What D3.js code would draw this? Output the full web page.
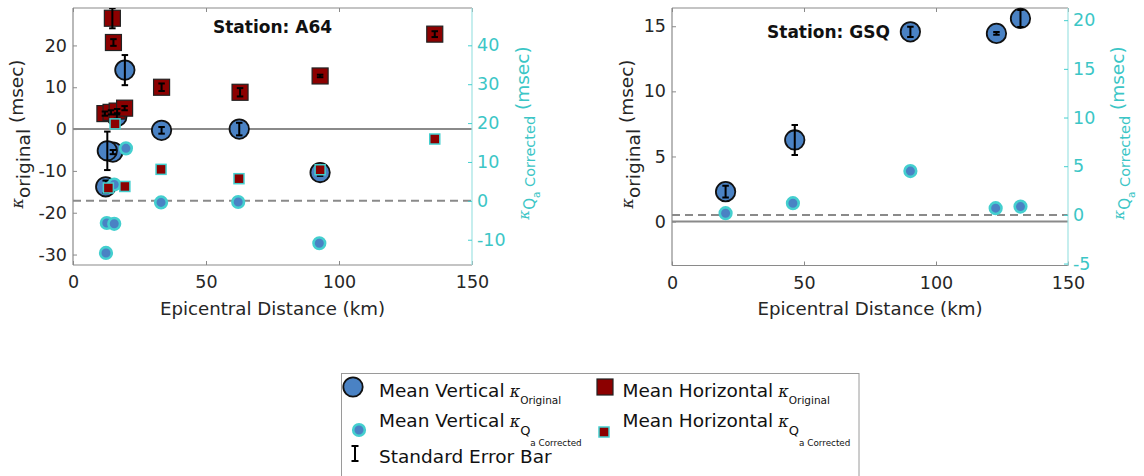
<!DOCTYPE html>
<html><head><meta charset="utf-8">
<script src="https://cdn.jsdelivr.net/npm/d3@7"></script>
<style>body{margin:0;background:#fff} text{font-family:"DejaVu Sans",sans-serif}</style>
</head><body><svg id="c" width="1144" height="476"></svg>
<script>
// ---------- data ----------
const xTicks = [0, 50, 100, 150];
const xLimits = [0, 150];

// Station A64
const a64LeftTicks = [-30, -20, -10, 0, 10, 20];
const a64RightTicks = [-10, 0, 10, 20, 30, 40];
const a64LeftLimits = [-32.5, 28.95];
const a64RightLimits = [-16.5, 49.6];

const a64VertOrigDist = [16.5, 19.5, 33.3, 62.5, 92.9, 15.0, 12.9, 12.3];
const a64VertOrigVal  = [3.0, 14.1, -0.3, 0.0, -10.4, -5.5, -5.2, -13.8];
const a64VertOrigErr  = [0.5, 3.6, 0.8, 1.5, 0.8, 0.5, 4.6, 1.5];

const a64HorOrigDist = [14.8, 15.2, 33.3, 62.8, 92.9, 136.0, 12.0, 14.3, 16.6, 19.4];
const a64HorOrigVal  = [26.5, 20.7, 10.0, 8.8, 12.7, 22.7, 3.7, 4.0, 4.3, 5.0];
const a64HorOrigErr  = [2.4, 0.8, 0.9, 1.0, 0.3, 0.7, 0.5, 0.5, 0.5, 0.5];

const a64VertCorrDist = [12.4, 12.7, 15.5, 19.9, 33.1, 62.1, 92.6, 15.5];
const a64VertCorrVal  = [-13.4, -5.7, -5.9, 13.5, -0.4, -0.3, -10.9, 4.2];

const a64HorCorrDist = [15.8, 33.1, 62.4, 92.9, 136.0, 13.3, 19.5];
const a64HorCorrVal  = [19.8, 8.1, 5.7, 8.0, 15.9, 3.3, 3.7];

// Station GSQ
const gsqLeftTicks = [0, 5, 10, 15];
const gsqRightTicks = [-5, 0, 5, 10, 15, 20];
const gsqLeftLimits = [-3.37, 16.4];
const gsqRightLimits = [-5.2, 21.25];

const gsqVertOrigDist = [20.3, 46.5, 90.3, 122.9, 132.0];
const gsqVertOrigVal  = [2.3, 6.27, 14.57, 14.45, 15.6];
const gsqVertOrigErr  = [0.45, 1.15, 0.4, 0.1, 0.65];

const gsqVertCorrDist = [20.3, 45.8, 90.3, 122.6, 132.0];
const gsqVertCorrVal  = [0.17, 1.2, 4.5, 0.69, 0.85];

const gsqHorOrigDist = [], gsqHorOrigVal = [], gsqHorOrigErr = [];
const gsqHorCorrDist = [], gsqHorCorrVal = [];

// ---------- style ----------
const BLUE = "#4a82c4", RED = "#8c0000", CYAN = "#44cfcf", CYANTXT = "#3cc6c6";
const GRAY = "#8a8a8a", DARK = "#262626";
const fmt = d => String(d);   // plain hyphen-minus like the reference

const svg = d3.select("#c");
svg.append("rect").attr("width", 1144).attr("height", 476).attr("fill", "#fff");

const zip = (a, b, c) => a.map((d, i) => ({x: d, y: b[i], e: c ? c[i] : 0}));

const panels = [
  {id: "a64", left: 73, right: 472, top: 8, bottom: 265,
   lLim: a64LeftLimits, rLim: a64RightLimits, lTicks: a64LeftTicks, rTicks: a64RightTicks,
   vo: zip(a64VertOrigDist, a64VertOrigVal, a64VertOrigErr),
   ho: zip(a64HorOrigDist, a64HorOrigVal, a64HorOrigErr),
   vc: zip(a64VertCorrDist, a64VertCorrVal),
   hc: zip(a64HorCorrDist, a64HorCorrVal),
   title: "Station: A64", titleX: 272.5, titleY: 33,
   lLabelX: 23, rLabelX: 529},
  {id: "gsq", left: 672, right: 1068, top: 8, bottom: 265.5,
   lLim: gsqLeftLimits, rLim: gsqRightLimits, lTicks: gsqLeftTicks, rTicks: gsqRightTicks,
   vo: zip(gsqVertOrigDist, gsqVertOrigVal, gsqVertOrigErr),
   ho: zip(gsqHorOrigDist, gsqHorOrigVal, gsqHorOrigErr),
   vc: zip(gsqVertCorrDist, gsqVertCorrVal),
   hc: zip(gsqHorCorrDist, gsqHorCorrVal),
   title: "Station: GSQ", titleX: 828.5, titleY: 38,
   lLabelX: 633, rLabelX: 1124}
];

function bigCircle(sel) {
  sel.attr("r", 9.7).attr("fill", BLUE).attr("stroke", "#111").attr("stroke-width", 1.8);
}
function smallCircle(sel) {
  sel.attr("r", 5.8).attr("fill", BLUE).attr("stroke", CYAN).attr("stroke-width", 2.6);
}
function errBar(g, x, y0, y1, cap) {
  g.append("line").attr("x1", x).attr("x2", x).attr("y1", y0).attr("y2", y1)
    .attr("stroke", "#000").attr("stroke-width", 2);
  [y0, y1].forEach(yy => g.append("line").attr("x1", x - cap / 2).attr("x2", x + cap / 2)
    .attr("y1", yy).attr("y2", yy).attr("stroke", "#000").attr("stroke-width", 2));
}

panels.forEach(p => {
  const x = d3.scaleLinear().domain(xLimits).range([p.left, p.right]);
  const yL = d3.scaleLinear().domain(p.lLim).range([p.bottom, p.top]);
  const yR = d3.scaleLinear().domain(p.rLim).range([p.bottom, p.top]);
  const g = svg.append("g");

  const clipId = "clip-" + p.id;
  svg.append("defs").append("clipPath").attr("id", clipId).append("rect")
    .attr("x", p.left).attr("y", p.top).attr("width", p.right - p.left).attr("height", p.bottom - p.top);

  // zero lines
  g.append("line").attr("x1", p.left).attr("x2", p.right).attr("y1", yL(0)).attr("y2", yL(0))
    .attr("stroke", GRAY).attr("stroke-width", 2);
  g.append("line").attr("x1", p.left).attr("x2", p.right).attr("y1", yR(0)).attr("y2", yR(0))
    .attr("stroke", GRAY).attr("stroke-width", 2).attr("stroke-dasharray", "8,5");

  // axes
  const tl = 4;
  const xb = d3.axisBottom(x).tickValues(xTicks).tickSize(-tl).tickPadding(11).tickFormat(fmt);
  const ax = g.append("g").attr("transform", `translate(0,${p.bottom})`).call(xb);
  const xt = d3.axisTop(x).tickValues(xTicks).tickSize(-tl).tickFormat("");
  const axT = g.append("g").attr("transform", `translate(0,${p.top})`).call(xt);
  const yl = d3.axisLeft(yL).tickValues(p.lTicks).tickSize(-tl).tickPadding(6).tickFormat(fmt);
  const ayl = g.append("g").attr("transform", `translate(${p.left},0)`).call(yl);
  const yr = d3.axisRight(yR).tickValues(p.rTicks).tickSize(-tl).tickPadding(5).tickFormat(fmt);
  const ayr = g.append("g").attr("transform", `translate(${p.right},0)`).call(yr);

  [ax, axT, ayl].forEach(a => {
    a.select(".domain").attr("stroke", GRAY).attr("stroke-width", 1.2);
    a.selectAll(".tick line").attr("stroke", GRAY).attr("stroke-width", 1);
    a.selectAll("text").attr("fill", DARK).attr("font-size", 17.5).attr("font-family", "DejaVu Sans");
  });
  ax.selectAll("text").attr("dy", "0.71em");
  ayr.select(".domain").attr("stroke", "#9fe3e3").attr("stroke-width", 1.2);
  ayr.selectAll(".tick line").attr("stroke", CYAN).attr("stroke-width", 1);
  ayr.selectAll("text").attr("fill", CYANTXT).attr("font-size", 17.5).attr("font-family", "DejaVu Sans");
  ax.select(".domain").attr("d", `M${p.left},0H${p.right}`);
  axT.select(".domain").attr("d", `M${p.left},0H${p.right}`);
  ayl.select(".domain").attr("d", `M0,${p.top}V${p.bottom}`);
  ayr.select(".domain").attr("d", `M0,${p.top}V${p.bottom}`);

  // x label
  g.append("text").attr("x", (p.left + p.right) / 2).attr("y", 315).attr("text-anchor", "middle")
    .attr("font-size", 18.2).attr("fill", DARK).text("Epicentral Distance (km)");

  // left y label
  const ll = g.append("text").attr("transform", `translate(${p.lLabelX},134) rotate(-90)`)
    .attr("text-anchor", "middle").attr("fill", DARK).attr("font-size", 18.5);
  ll.append("tspan").attr("font-style", "italic").attr("font-size", 16).attr("font-family", "DejaVu Serif").text("κ");
  ll.append("tspan").attr("dy", 7).attr("font-size", 18.5).text("original");
  ll.append("tspan").attr("dy", -7).text(" (msec)");

  // right y label
  const rl = g.append("text").attr("transform", `translate(${p.rLabelX},133) rotate(-90)`)
    .attr("text-anchor", "middle").attr("fill", CYANTXT).attr("font-size", 18.5);
  rl.append("tspan").attr("font-style", "italic").attr("font-size", 15).attr("font-family", "DejaVu Serif").text("κ");
  rl.append("tspan").attr("dy", 6).attr("font-size", 15).text("Q");
  rl.append("tspan").attr("dy", 5).attr("font-size", 10.5).text("a");
  rl.append("tspan").attr("dy", -5).attr("font-size", 14.5).text(" Corrected");
  rl.append("tspan").attr("dy", -6).text(" (msec)");

  // title
  g.append("text").attr("x", p.titleX).attr("y", p.titleY).attr("text-anchor", "middle")
    .attr("font-size", 17).attr("font-weight", "bold").attr("fill", "#111").text(p.title);

  // markers: original (left axis)
  const m = g.append("g");
  m.selectAll(".vo").data(p.vo).join("circle").attr("class", "vo")
    .attr("cx", d => x(d.x)).attr("cy", d => yL(d.y)).call(bigCircle);
  const sq = 16;
  m.selectAll(".ho").data(p.ho).join("rect").attr("class", "ho")
    .attr("x", d => x(d.x) - sq / 2).attr("y", d => yL(d.y) - sq / 2)
    .attr("width", sq).attr("height", sq).attr("fill", RED).attr("stroke", "#222").attr("stroke-width", 1.2);
  // error bars (clipped to the axes box)
  const eg = g.append("g").attr("clip-path", `url(#${clipId})`);
  p.vo.concat(p.ho).forEach(d => errBar(eg, x(d.x), yL(d.y - d.e), yL(d.y + d.e), 6.5));

  // corrected (right axis), drawn above error bars
  g.append("g").selectAll("circle").data(p.vc).join("circle")
    .attr("cx", d => x(d.x)).attr("cy", d => yR(d.y)).call(smallCircle);
  const ss = 10;
  g.append("g").selectAll("rect").data(p.hc).join("rect")
    .attr("x", d => x(d.x) - ss / 2).attr("y", d => yR(d.y) - ss / 2)
    .attr("width", ss).attr("height", ss).attr("fill", RED).attr("stroke", CYAN).attr("stroke-width", 1.5);
});

// ---------- legend ----------
const lg = svg.append("g");
lg.append("rect").attr("x", 341.5).attr("y", 373.5).attr("width", 517.5).attr("height", 110)
  .attr("fill", "#fff").attr("stroke", "#9a9a9a").attr("stroke-width", 1);
lg.append("circle").attr("cx", 353).attr("cy", 387).call(bigCircle);
lg.append("rect").attr("x", 605 - 8).attr("y", 387 - 8).attr("width", 16).attr("height", 16)
  .attr("fill", RED).attr("stroke", "#222").attr("stroke-width", 1.2);
lg.append("circle").attr("cx", 359).attr("cy", 430).call(smallCircle);
lg.append("rect").attr("x", 604 - 5).attr("y", 432 - 5).attr("width", 10).attr("height", 10)
  .attr("fill", RED).attr("stroke", CYAN).attr("stroke-width", 1.5);
errBar(lg, 355, 446, 461, 7);

function legText(x, y, main, subs) {
  const t = lg.append("text").attr("x", x).attr("y", y).attr("font-size", 18.5).attr("fill", "#111");
  t.append("tspan").text(main);
  t.append("tspan").attr("font-style", "italic").attr("font-family", "DejaVu Serif").attr("font-size", 16).text(" κ");
  subs.forEach(s => t.append("tspan").attr("dy", s.dy).attr("font-size", s.fs).text(s.t));
}
legText(379, 397, "Mean Vertical", [{t: "Original", dy: 7, fs: 10.5}]);
legText(622.5, 397, "Mean Horizontal", [{t: "Original", dy: 7, fs: 10.5}]);
legText(379, 426.5, "Mean Vertical", [{t: "Q", dy: 8, fs: 13}, {t: "a Corrected", dy: 11, fs: 8.8}]);
legText(622.5, 426.5, "Mean Horizontal", [{t: "Q", dy: 8, fs: 13}, {t: "a Corrected", dy: 11, fs: 8.8}]);
lg.append("text").attr("x", 379).attr("y", 463).attr("font-size", 18.5).attr("fill", "#111").text("Standard Error Bar");
</script></body></html>
